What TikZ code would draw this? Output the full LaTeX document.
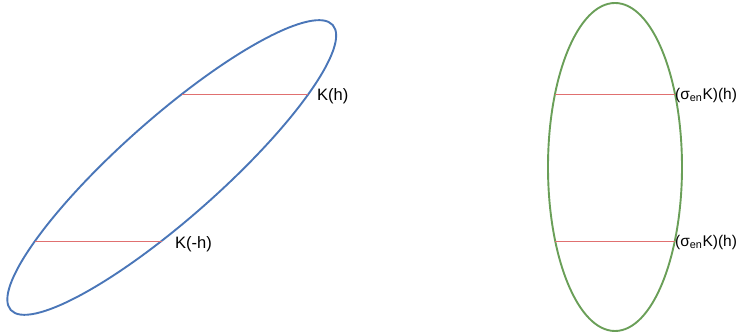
\documentclass[tikz,border=0pt]{standalone}
\usepackage{fontspec}
\setmainfont{Liberation Sans}
\definecolor{eblue}{HTML}{4A76B8}
\definecolor{egreen}{HTML}{6A9F58}
\definecolor{ered}{HTML}{E07070}
\begin{document}
\begin{tikzpicture}[x=1pt,y=1pt,
  bluecurve/.style={draw=eblue,line width=1.9pt},
  greencurve/.style={draw=egreen,line width=1.9pt},
  chord/.style={draw=ered,line width=0.9pt},
  lbl/.style={inner sep=0pt,anchor=west,font=\fontsize{16.5}{19}\selectfont},
  slbl/.style={inner sep=0pt,anchor=west,font=\fontsize{15.5}{18}\selectfont}]
\useasboundingbox (0,0) rectangle (740,336);
% left ellipse
\coordinate (lc) at (171.75,168.5);
\draw[bluecurve,rotate around={41.5:(lc)}] (lc) ellipse [x radius=215, y radius=50];
\coordinate (k1a) at (182,242);
\coordinate (k1b) at (308,242);
\coordinate (k2a) at (35,95);
\coordinate (k2b) at (162,95);
\draw[chord] (k1a) -- (k1b);
\draw[chord] (k2a) -- (k2b);
\node[lbl] (lk1) at ([xshift=9pt,yshift=-2pt]k1b) {K(h)};
\node[lbl] (lk2) at ([xshift=13pt,yshift=-3pt]k2b) {K(-h)};
% right ellipse
\coordinate (rc) at (615,169);
\draw[greencurve] (rc) ellipse [x radius=67, y radius=164];
\coordinate (s1a) at (555,242);
\coordinate (s1b) at (675,242);
\coordinate (s2a) at (555,95);
\coordinate (s2b) at (675,95);
\draw[chord] (s1a) -- (s1b);
\draw[chord] (s2a) -- (s2b);
\node[slbl] (ls1) at ([xshift=0pt,yshift=-1pt]s1b) {(σ\textsubscript{en}K)(h)};
\node[slbl] (ls2) at ([xshift=0pt,yshift=-1pt]s2b) {(σ\textsubscript{en}K)(h)};
\end{tikzpicture}
\end{document}
